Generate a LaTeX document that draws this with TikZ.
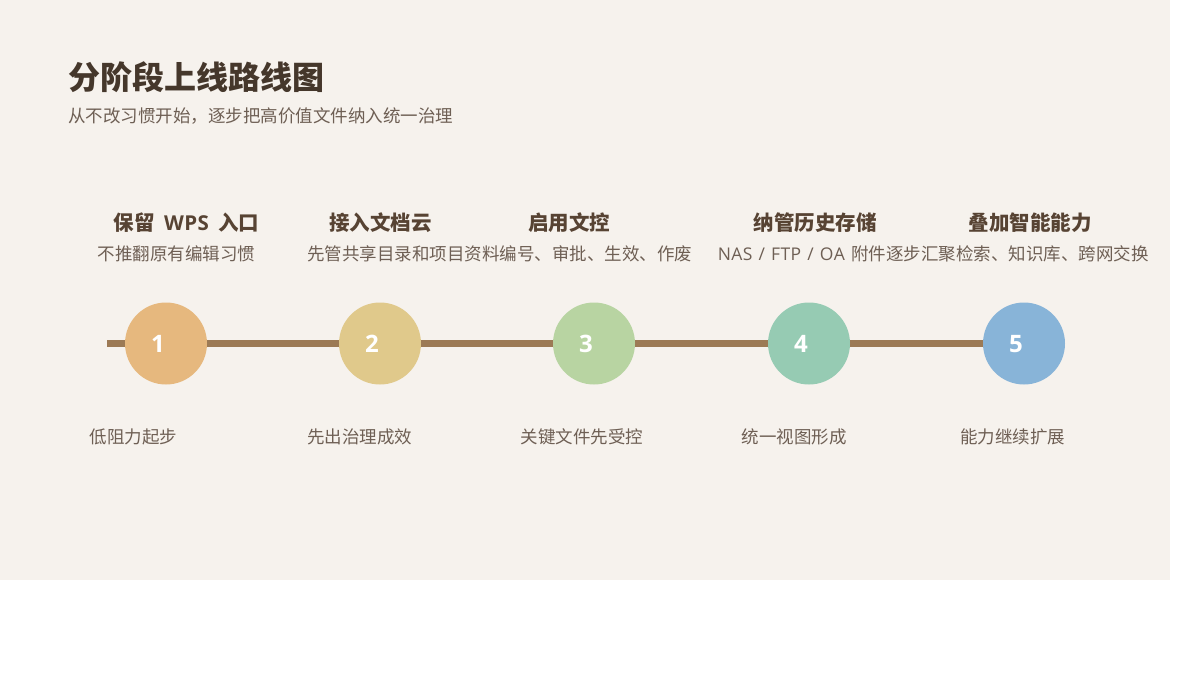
\documentclass[tikz,border=0pt]{standalone}
\usepackage{fontspec}
\setmainfont{Noto Sans CJK SC}
\newfontfamily\latinf{Open Sans}
\usetikzlibrary{backgrounds}
\definecolor{bgbeige}{HTML}{F6F2ED}
\definecolor{titlec}{HTML}{45372B}
\definecolor{headc}{HTML}{574333}
\definecolor{descc}{HTML}{6E5F54}
\definecolor{linec}{HTML}{9C7A55}
\definecolor{cA}{HTML}{E6B87E}
\definecolor{cB}{HTML}{E0C98B}
\definecolor{cC}{HTML}{B8D4A2}
\definecolor{cD}{HTML}{96CBB3}
\definecolor{cE}{HTML}{88B4D8}
\tikzset{
  maintitle/.style={anchor=base west, inner sep=0, text=titlec, font=\fontsize{32}{38}\selectfont\bfseries},
  subtitle/.style={anchor=base west, inner sep=0, text=descc, font=\fontsize{17.5}{21}\selectfont},
  head/.style={anchor=base, inner sep=0, text=headc, font=\fontsize{20.5}{24}\selectfont\bfseries},
  desc/.style={anchor=base, inner sep=0, text=descc, font=\fontsize{17.5}{21}\selectfont},
  bottom/.style={anchor=base, inner sep=0, text=descc, font=\fontsize{17.5}{21}\selectfont},
  dot/.style={circle, inner sep=0, minimum size=82pt, draw=none},
  num/.style={anchor=base, inner sep=0, text=white, font=\fontsize{24}{28}\selectfont\bfseries\latinf},
  track/.style={draw=linec, line width=7pt}
}
\begin{document}
\begin{tikzpicture}[x=1pt,y=-1pt]
\useasboundingbox (0,0) rectangle (1200,675);
% title
\node[maintitle] (title) at (68,89) {分阶段上线路线图};
\node[subtitle] (sub) at (68,122.7) {从不改习惯开始，逐步把高价值文件纳入统一治理};
% headings
\node[head] (h1) at (186.5,230.3) {保留{\latinf\bfseries\hspace{0.45em}W\kern0.5pt P\kern0.5pt S\hspace{0.45em}}入口};
\node[head] (h2) at (380.5,230.3) {接入文档云};
\node[head] (h3) at (569,230.3) {启用文控};
\node[head] (h4) at (815,230.3) {纳管历史存储};
\node[head] (h5) at (1030,230.3) {叠加智能能力};
% descriptions
\node[desc] (d1) at (176.5,260.2) {不推翻原有编辑习惯};
\node[desc] (d2) at (403.5,260.2) {先管共享目录和项目资料};
\node[desc] (d3) at (596,260.2) {编号、审批、生效、作废};
\node[desc] (d4) at (819.5,260.2) {{\latinf N\kern0.4pt A\kern0.4pt S\hspace{0.35em}/\hspace{0.35em}F\kern0.4pt T\kern0.4pt P\hspace{0.35em}/\hspace{0.35em}O\kern0.4pt A\hspace{0.35em}}附件逐步};
\node[desc] (d5) at (1035,260.2) {汇聚检索、知识库、跨网交换};
% circles
\coordinate (start) at (107,343.5);
\node[dot, fill=cA] (c1) at (166,343.5) {};
\node[dot, fill=cB] (c2) at (380,343.5) {};
\node[dot, fill=cC] (c3) at (594,343.5) {};
\node[dot, fill=cD] (c4) at (809,343.5) {};
\node[dot, fill=cE] (c5) at (1024,343.5) {};
\node[num] (n1) at ([xshift=-8pt,yshift=-9pt]c1.center) {1};
\node[num] (n2) at ([xshift=-8pt,yshift=-9pt]c2.center) {2};
\node[num] (n3) at ([xshift=-8pt,yshift=-9pt]c3.center) {3};
\node[num] (n4) at ([xshift=-8pt,yshift=-9pt]c4.center) {4};
\node[num] (n5) at ([xshift=-8pt,yshift=-9pt]c5.center) {5};
% bottom labels
\node[bottom] (b1) at (133.5,443.7) {低阻力起步};
\node[bottom] (b2) at (359.5,443.7) {先出治理成效};
\node[bottom] (b3) at (582,443.7) {关键文件先受控};
\node[bottom] (b4) at (794,443.7) {统一视图形成};
\node[bottom] (b5) at (1012.5,443.7) {能力继续扩展};
\begin{scope}[on background layer]
  \fill[white] (0,0) rectangle (1200,675);
  \fill[bgbeige] (0,0) rectangle (1170,580);
  \draw[track] (start) -- (c5.center);
\end{scope}
\end{tikzpicture}
\end{document}
